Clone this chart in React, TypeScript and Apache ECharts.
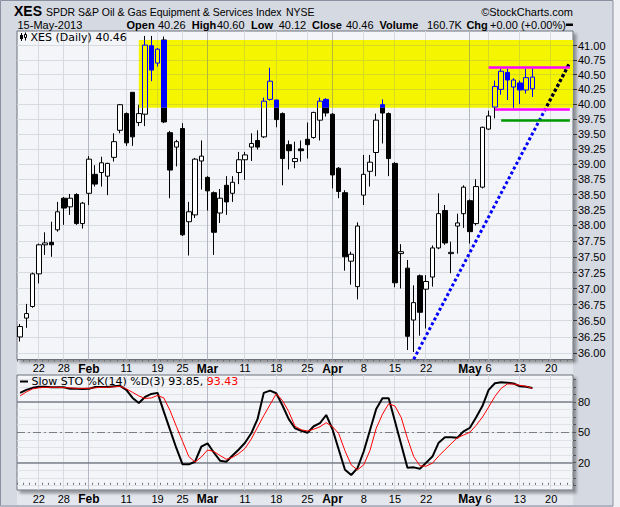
import React, { useEffect, useRef } from 'react';
import * as echarts from 'echarts';

// ---------------- data ----------------
const DATES: string[] = [
  '2013-01-16', '2013-01-17', '2013-01-18', '2013-01-22', '2013-01-23', '2013-01-24', '2013-01-25',
  '2013-01-28', '2013-01-29', '2013-01-30', '2013-01-31',
  '2013-02-01', '2013-02-04', '2013-02-05', '2013-02-06', '2013-02-07', '2013-02-08',
  '2013-02-11', '2013-02-12', '2013-02-13', '2013-02-14', '2013-02-15',
  '2013-02-19', '2013-02-20', '2013-02-21', '2013-02-22',
  '2013-02-25', '2013-02-26', '2013-02-27', '2013-02-28',
  '2013-03-01', '2013-03-04', '2013-03-05', '2013-03-06', '2013-03-07', '2013-03-08',
  '2013-03-11', '2013-03-12', '2013-03-13', '2013-03-14', '2013-03-15',
  '2013-03-18', '2013-03-19', '2013-03-20', '2013-03-21', '2013-03-22',
  '2013-03-25', '2013-03-26', '2013-03-27', '2013-03-28',
  '2013-04-01', '2013-04-02', '2013-04-03', '2013-04-04', '2013-04-05',
  '2013-04-08', '2013-04-09', '2013-04-10', '2013-04-11', '2013-04-12',
  '2013-04-15', '2013-04-16', '2013-04-17', '2013-04-18', '2013-04-19',
  '2013-04-22', '2013-04-23', '2013-04-24', '2013-04-25', '2013-04-26',
  '2013-04-29', '2013-04-30',
  '2013-05-01', '2013-05-02', '2013-05-03',
  '2013-05-06', '2013-05-07', '2013-05-08', '2013-05-09', '2013-05-10',
  '2013-05-13', '2013-05-14', '2013-05-15',
  '2013-05-16', '2013-05-17', '2013-05-20', '2013-05-21', '2013-05-22', '2013-05-23',
];

const OPEN = [
  36.25, 36.54, 36.72, 37.23, 37.69, 37.73, 37.93, 38.44, 38.30, 38.50,
  38.03, 38.52, 38.83, 38.86, 38.80, 39.11, 39.56, 39.84, 40.20, 39.69,
  39.83, 41.00, 40.70, 41.10, 39.52, 39.28, 39.59, 38.06, 38.17, 39.05,
  38.78, 38.53, 38.20, 38.65, 38.52, 38.86, 39.07, 39.28, 39.39, 39.45,
  40.08, 40.07, 39.84, 39.32, 39.04, 39.25, 39.41, 39.44, 39.73, 40.08,
  39.83, 38.93, 38.53, 37.43, 37.03, 38.49, 38.88, 39.19, 39.99, 39.84,
  39.01, 37.55, 37.32, 36.51, 37.20, 36.99, 37.18, 37.64, 38.24, 37.55,
  37.99, 38.19, 38.40, 38.03, 38.62, 39.58, 39.95, 40.25, 40.54, 40.29,
  40.36, 40.24, 40.26,
];
const HIGH = [
  36.45, 36.76, 37.25, 37.71, 37.89, 38.06, 38.38, 38.46, 38.51, 38.52,
  38.38, 39.13, 38.98, 39.12, 39.02, 39.51, 40.00, 39.86, 40.20, 39.99,
  41.17, 41.17, 40.96, 41.16, 39.55, 39.40, 39.68, 38.38, 39.10, 39.39,
  38.80, 38.55, 38.59, 38.80, 38.80, 39.20, 39.20, 39.51, 39.56, 40.11,
  40.62, 40.07, 39.86, 39.39, 39.37, 39.39, 39.69, 39.87, 40.11, 40.10,
  39.85, 38.95, 38.57, 37.58, 38.05, 39.15, 39.15, 39.84, 40.08, 39.86,
  39.03, 37.70, 37.45, 37.05, 37.22, 37.21, 37.68, 38.52, 38.33, 37.74,
  38.19, 38.65, 38.42, 38.75, 39.62, 39.89, 40.40, 40.60, 40.60, 40.44,
  40.40, 40.60, 40.60,
];
const LOW = [
  36.18, 36.39, 36.70, 37.08, 37.53, 37.50, 37.90, 38.01, 38.17, 38.01,
  37.95, 38.33, 38.63, 38.63, 38.49, 39.04, 39.51, 39.30, 39.30, 39.63,
  39.63, 40.39, 40.64, 39.68, 38.44, 38.96, 37.83, 37.52, 38.12, 38.58,
  38.24, 37.53, 38.04, 38.17, 38.38, 38.67, 38.74, 39.05, 39.24, 39.43,
  40.06, 39.61, 38.65, 38.91, 38.93, 39.04, 39.09, 39.42, 39.39, 39.79,
  38.60, 38.44, 37.28, 37.06, 36.83, 38.33, 38.63, 38.80, 39.34, 38.80,
  37.02, 37.00, 36.05, 36.02, 36.27, 36.38, 37.03, 37.62, 37.69, 37.24,
  37.55, 37.96, 37.71, 38.00, 38.60, 39.57, 39.76, 40.16, 40.07, 39.93,
  40.00, 40.18, 40.12,
];
const CLOSE = [
  36.41, 36.61, 37.23, 37.69, 37.72, 37.69, 38.22, 38.28, 38.44, 38.03,
  38.36, 39.08, 38.67, 39.02, 39.01, 39.37, 39.99, 39.35, 39.45, 39.84,
  41.01, 40.58, 40.94, 39.70, 38.90, 39.37, 37.85, 38.22, 39.08, 39.13,
  38.56, 37.89, 38.44, 38.38, 38.70, 39.07, 39.15, 39.34, 39.28, 40.05,
  40.39, 39.74, 39.09, 39.22, 39.09, 39.22, 39.32, 39.86, 40.05, 39.85,
  38.82, 38.55, 37.50, 37.54, 37.99, 38.83, 39.03, 39.73, 39.85, 39.09,
  37.09, 37.58, 36.26, 36.78, 36.63, 37.11, 37.64, 38.19, 37.72, 37.57,
  38.04, 38.62, 37.90, 38.63, 39.61, 39.80, 40.30, 40.56, 40.41, 40.41,
  40.24, 40.45, 40.46,
];

const STO_K = [
  89, 92, 94, 95, 95, 94.6, 94.6, 94.6, 93, 93,
  92.9, 93, 94.8, 94.8, 94.8, 95.5, 96, 92, 84, 79,
  85, 88, 89, 70.4, 52.4, 34.5, 18.3, 18.3, 20.9, 35.7,
  39.1, 30, 21.9, 20.9, 27, 33, 39.7, 49, 63, 89,
  91.2, 88.6, 76.5, 63, 54, 51.5, 49.6, 56, 59, 67.1,
  53, 33, 13, 7.7, 14.5, 31, 52, 73, 83.7, 83.7,
  61, 38, 15, 15.3, 14, 20, 26, 39.7, 45, 45,
  44.6, 51, 54.5, 65, 76, 92, 98.5, 99.5, 99, 98.3,
  95.5, 95, 93.85,
];
const STO_D = [
  86, 90, 93, 94, 94.5, 94.5, 94.5, 94.2, 94, 93.5,
  93.5, 93.5, 94, 94.5, 94.5, 95, 95.5, 93, 89.5, 86,
  83.5, 84, 86.5, 84, 71.5, 56, 41, 26, 20.5, 25.5,
  32.5, 31, 27, 23.3, 25.2, 29, 34, 43.3, 55, 66.5,
  77.3, 88.2, 81.4, 70.4, 56, 52.5, 51.3, 53, 55.5, 59.5,
  55.6, 48.7, 31.7, 17.7, 12.8, 17.8, 32, 54, 67.9, 78.3,
  76, 64.7, 44, 26, 16.8, 16.5, 19.5, 26.5, 32.6, 38.7,
  44.6, 47.3, 50, 56.9, 65, 75, 85.5, 93.5, 97.8, 97.8,
  96.5, 95.5, 93.43,
];

const Y_TICKS = [
  36.0, 36.25, 36.5, 36.75, 37.0, 37.25, 37.5, 37.75, 38.0, 38.25, 38.5,
  38.75, 39.0, 39.25, 39.5, 39.75, 40.0, 40.25, 40.5, 40.75, 41.0,
];
const STO_LABELS = [20, 50, 80];
const STO_GRID = [-2.5, 5, 12.5, 20, 27.5, 35, 42.5, 50, 57.5, 65, 72.5, 80, 87.5, 95, 102.5];

const X_LABELS: [string, string][] = [
  ['2013-01-22', '22'], ['2013-01-28', '28'], ['2013-02-01', 'Feb'], ['2013-02-11', '11'],
  ['2013-02-19', '19'], ['2013-02-25', '25'], ['2013-03-01', 'Mar'], ['2013-03-11', '11'],
  ['2013-03-18', '18'], ['2013-03-25', '25'], ['2013-04-01', 'Apr'], ['2013-04-08', '8'],
  ['2013-04-15', '15'], ['2013-04-22', '22'], ['2013-05-01', 'May'], ['2013-05-06', '6'],
  ['2013-05-13', '13'], ['2013-05-20', '20'],
];
const MONTH_LABELS = ['Feb', 'Mar', 'Apr', 'May'];

// annotations
const ZONE_START = '2013-02-13';
const ZONE_LOW = 39.94;
const ZONE_HIGH = 41.1;
const TREND_DATES = ['2013-04-18', '2013-05-23'];
const TREND_VALUES = [35.91, 40.71];
const RANGE_TOP_DATES = ['2013-05-06', '2013-05-23'];
const RANGE_TOP = 40.62;
const RANGE_BOTTOM_DATES = ['2013-05-07', '2013-05-23'];
const RANGE_BOTTOM = 39.92;
const SUPPORT_DATES = ['2013-05-08', '2013-05-23'];
const SUPPORT = 39.73;

const HEADER_VOLUME = '160.7K';
const HEADER_CHG = '+0.00 (+0.00%)';
const HEADER_DATE = '15-May-2013';

// ---------------- style ----------------
const FONT = '"Liberation Sans", Arial, sans-serif';
const LEGEND_FONT = '"DejaVu Sans", Verdana, sans-serif';
const BG = '#d5d9e2';
const PLOT_BG = '#f4f5f9';
const GRID_C = '#d7dae1';
const GRID_MONTH = '#b4b8c2';
const YELLOW = '#f5f500';
const ZONE_GRID = '#d7da1e';
const ZONE_GRID_MONTH = '#b4b83d';
const BLUE = '#0000ff';

const LABEL_BY_DATE: Record<string, string> = {};
X_LABELS.forEach(([d, t]) => { LABEL_BY_DATE[d] = t; });

const sub = (p: number, positive?: boolean) => {
  const d = Math.round(p * 2);
  return d % 2 !== 0 ? d / 2 : (d + (positive ? 1 : -1)) / 2;
};

function zoneRect(params: any, api: any) {
  const cs = params.coordSys;
  const a = api.coord([ZONE_START, ZONE_HIGH]);
  const b = api.coord([ZONE_START, ZONE_LOW]);
  return { x: a[0], y: a[1], width: cs.x + cs.width - a[0], height: b[1] - a[1] };
}

function buildOption(): any {
  const N = OPEN.length;
  const candleData = OPEN.map((o, i) => [o, CLOSE[i], LOW[i], HIGH[i]]);
  const overlayData = OPEN.map((o, i) => [DATES[i], o, CLOSE[i], LOW[i], HIGH[i]]);

  const labelInterval = (index: number) => LABEL_BY_DATE[DATES[index]] !== undefined;
  const labelFormatter = (value: string) => {
    const t = LABEL_BY_DATE[value];
    if (t === undefined) return '';
    return MONTH_LABELS.includes(t) ? `{m|${t}}` : t;
  };

  const xAxisOf = (gridIndex: number) => ({
    type: 'category',
    gridIndex,
    data: DATES,
    boundaryGap: true,
    axisLine: { show: false },
    axisTick: { show: true, interval: 0, length: 2, lineStyle: { color: '#6a6e78' } },
    axisLabel: {
      interval: labelInterval,
      formatter: labelFormatter,
      margin: 3,
      fontSize: 11,
      color: '#000',
      fontFamily: FONT,
      rich: { m: { fontWeight: 'bold', fontSize: 12, color: '#000', fontFamily: FONT } },
    },
    splitLine: { show: false },
  });

  const vGrid = (gridIndex: number, yAnchor: number) => ({
    type: 'custom',
    xAxisIndex: gridIndex,
    yAxisIndex: gridIndex,
    z: 1,
    silent: true,
    data: X_LABELS.map(([d]) => [d]),
    renderItem: (params: any, api: any) => {
      const cs = params.coordSys;
      const idx = api.value(0);
      const isMonth = MONTH_LABELS.includes(LABEL_BY_DATE[DATES[idx]]);
      const x = sub(api.coord([idx, yAnchor])[0]);
      return {
        type: 'line',
        shape: { x1: x, y1: cs.y, x2: x, y2: cs.y + cs.height },
        style: { stroke: isMonth ? GRID_MONTH : GRID_C, lineWidth: 1 },
      };
    },
  });

  const gridCommon = {
    show: true,
    backgroundColor: PLOT_BG,
    borderColor: '#6c707a',
    borderWidth: 1,
    shadowColor: 'rgba(0,0,0,0.35)',
    shadowBlur: 3,
    shadowOffsetX: 3,
    shadowOffsetY: 3,
    containLabel: false,
    outerBoundsMode: 'none',
  };

  const txt = (x: number, y: number, text: string, extra: any = {}) => ({
    type: 'text',
    x,
    y,
    z: 20,
    silent: true,
    style: {
      text,
      fill: '#000',
      fontSize: 11,
      fontFamily: FONT,
      align: 'left',
      verticalAlign: 'middle',
      ...extra,
    },
  });
  const bold = { fontWeight: 'bold' };

  return {
    animation: false,
    backgroundColor: BG,
    textStyle: { fontFamily: FONT },
    grid: [
      { ...gridCommon, left: 17, top: 31, width: 556, height: 328.5 },
      { ...gridCommon, left: 17, top: 375, width: 556, height: 115 },
    ],
    xAxis: [xAxisOf(0), xAxisOf(1)],
    yAxis: [
      {
        type: 'log',
        logBase: 10,
        gridIndex: 0,
        position: 'right',
        min: 35.906,
        max: 41.256,
        axisLine: { show: false },
        axisTick: { show: true, customValues: Y_TICKS, length: 4, lineStyle: { color: '#333' } },
        axisLabel: {
          customValues: Y_TICKS,
          formatter: (v: number) => v.toFixed(2),
          margin: 5,
          fontSize: 11,
          color: '#000',
          fontFamily: FONT,
        },
        splitLine: { show: true, customValues: Y_TICKS, lineStyle: { color: GRID_C, width: 1 } },
      },
      {
        type: 'value',
        gridIndex: 1,
        position: 'right',
        min: -7.1,
        max: 106.7,
        axisLine: { show: false },
        axisTick: { show: true, customValues: STO_GRID, length: 3, lineStyle: { color: '#555' } },
        axisLabel: {
          customValues: STO_LABELS,
          margin: 5,
          fontSize: 11,
          color: '#000',
          fontFamily: FONT,
        },
        splitLine: { show: true, customValues: STO_GRID, lineStyle: { color: '#e0e2e8', width: 1 } },
      },
    ],
    graphic: [
      { type: 'rect', z: -10, silent: true, shape: { x: 613, y: 0, width: 7, height: 507 }, style: { fill: '#eef0f3' } },
      { type: 'rect', z: -9, silent: true, shape: { x: 0.5, y: 0.5, width: 612.5, height: 505.5 }, style: { fill: 'none', stroke: '#8a91a0', lineWidth: 1 } },
      { type: 'rect', z: -8, silent: true, shape: { x: 17, y: 360, width: 556, height: 15 }, style: { fill: '#e4e7ed' } },
      { type: 'rect', z: -8, silent: true, shape: { x: 17, y: 490, width: 556, height: 15 }, style: { fill: '#e4e7ed' } },
      // header line 1
      txt(14, 11, 'XES', { fontSize: 14, fontWeight: 'bold' }),
      txt(46, 11.5, 'SPDR S&P Oil & Gas Equipment & Services Index', { fontSize: 10.5 }),
      txt(286, 11.5, 'NYSE', { fontSize: 10.5 }),
      txt(573, 11.5, '©StockCharts.com', { align: 'right' }),
      // header line 2
      txt(17.5, 24.5, HEADER_DATE),
      txt(126.5, 24.5, 'Open', bold),
      txt(158, 24.5, OPEN[N - 1].toFixed(2)),
      txt(191.7, 24.5, 'High', bold),
      txt(217, 24.5, HIGH[N - 1].toFixed(2)),
      txt(251, 24.5, 'Low', bold),
      txt(278.7, 24.5, LOW[N - 1].toFixed(2)),
      txt(312, 24.5, 'Close', bold),
      txt(346, 24.5, CLOSE[N - 1].toFixed(2)),
      txt(379.4, 24.5, 'Volume', bold),
      txt(427, 24.5, HEADER_VOLUME),
      txt(466.4, 24.5, 'Chg', bold),
      txt(490, 24.5, HEADER_CHG),
      { type: 'rect', z: 20, silent: true, shape: { x: 566, y: 23.5, width: 7, height: 2.5 }, style: { fill: '#000' } },
      // main legend
      { type: 'line', z: 20, silent: true, shape: { x1: 21.5, y1: 33, x2: 21.5, y2: 41 }, style: { stroke: '#000', lineWidth: 1 } },
      { type: 'rect', z: 20, silent: true, shape: { x: 20, y: 35, width: 3, height: 4 }, style: { fill: '#000' } },
      { type: 'line', z: 20, silent: true, shape: { x1: 25.5, y1: 32.5, x2: 25.5, y2: 40.5 }, style: { stroke: '#000', lineWidth: 1 } },
      { type: 'rect', z: 20, silent: true, shape: { x: 24.5, y: 34.5, width: 2, height: 3 }, style: { fill: '#fff', stroke: '#000', lineWidth: 1 } },
      txt(30.5, 37.5, `XES (Daily) ${CLOSE[N - 1].toFixed(2)}`, { fontFamily: LEGEND_FONT }),
      // sto legend
      { type: 'line', z: 20, silent: true, shape: { x1: 20, y1: 381.5, x2: 28, y2: 381.5 }, style: { stroke: '#000', lineWidth: 2 } },
      txt(31.5, 381.5, `{k|Slow STO %K(14) %D(3) ${STO_K[N - 1].toFixed(2)},} {d|${STO_D[N - 1].toFixed(2)}}`, {
        fontFamily: LEGEND_FONT,
        rich: {
          k: { fill: '#000', color: '#000', fontSize: 11, fontFamily: LEGEND_FONT },
          d: { fill: '#ff0000', color: '#ff0000', fontSize: 11, fontFamily: LEGEND_FONT },
        },
      }),
    ],
    series: [
      vGrid(0, Y_TICKS[0]),
      {
        type: 'candlestick',
        xAxisIndex: 0,
        yAxisIndex: 0,
        z: 2,
        silent: true,
        barWidth: 5,
        data: candleData,
        itemStyle: {
          color: '#ffffff',
          color0: '#000000',
          borderColor: '#000000',
          borderColor0: '#000000',
          borderWidth: 1,
        },
        markLine: {
          silent: true,
          z: 10,
          symbol: ['none', 'none'],
          label: { show: false },
          data: [
            [
              { coord: [RANGE_TOP_DATES[0], RANGE_TOP], lineStyle: { color: '#ff00ff', width: 2.5, type: 'solid' } },
              { coord: [RANGE_TOP_DATES[1], RANGE_TOP] },
            ],
            [
              { coord: [RANGE_BOTTOM_DATES[0], RANGE_BOTTOM], lineStyle: { color: '#ff00ff', width: 2.5, type: 'solid' } },
              { coord: [RANGE_BOTTOM_DATES[1], RANGE_BOTTOM] },
            ],
            [
              { coord: [SUPPORT_DATES[0], SUPPORT], lineStyle: { color: '#009a00', width: 2.5, type: 'solid' } },
              { coord: [SUPPORT_DATES[1], SUPPORT] },
            ],
          ],
        },
      },
      // yellow zone with its own (shifted-colour) grid lines
      {
        type: 'custom',
        xAxisIndex: 0,
        yAxisIndex: 0,
        z: 4,
        silent: true,
        data: [[ZONE_START, ZONE_LOW, ZONE_HIGH]],
        renderItem: (params: any, api: any) => {
          const r = zoneRect(params, api);
          const children: any[] = [
            { type: 'rect', shape: r, style: { fill: YELLOW } },
          ];
          Y_TICKS.forEach((v) => {
            const y = sub(api.coord([ZONE_START, v])[1], true);
            if (y > r.y && y < r.y + r.height) {
              children.push({ type: 'line', shape: { x1: r.x, y1: y, x2: r.x + r.width, y2: y }, style: { stroke: ZONE_GRID, lineWidth: 1 } });
            }
          });
          X_LABELS.forEach(([d, t]) => {
            const x = sub(api.coord([d, ZONE_LOW])[0]);
            if (x > r.x && x < r.x + r.width) {
              children.push({
                type: 'line',
                shape: { x1: x, y1: r.y, x2: x, y2: r.y + r.height },
                style: { stroke: MONTH_LABELS.includes(t) ? ZONE_GRID_MONTH : ZONE_GRID, lineWidth: 1 },
              });
            }
          });
          return { type: 'group', children };
        },
      },
      // candles seen through the yellow zone
      {
        type: 'custom',
        xAxisIndex: 0,
        yAxisIndex: 0,
        z: 5,
        silent: true,
        data: overlayData,
        renderItem: (params: any, api: any) => {
          const r = zoneRect(params, api);
          const cat = api.value(0);
          const o = api.value(1);
          const c = api.value(2);
          const l = api.value(3);
          const h = api.value(4);
          const po = api.coord([cat, o]);
          const pc = api.coord([cat, c]);
          const ph = api.coord([cat, h]);
          const pl = api.coord([cat, l]);
          const cx = po[0];
          if (cx + 4 < r.x) return null;
          if (ph[1] > r.y + r.height || pl[1] < r.y) return null;
          const top = Math.min(po[1], pc[1]);
          const bot = Math.max(po[1], pc[1]);
          const xl = sub(cx - 2.5, true);
          const xr = sub(cx + 2.5, false);
          const wx = sub(cx);
          const up = c > o;
          return {
            type: 'group',
            clipPath: { type: 'rect', shape: r },
            children: [
              { type: 'line', shape: { x1: wx, y1: ph[1], x2: wx, y2: top }, style: { stroke: BLUE, lineWidth: 1 } },
              { type: 'line', shape: { x1: wx, y1: bot, x2: wx, y2: pl[1] }, style: { stroke: BLUE, lineWidth: 1 } },
              {
                type: 'polygon',
                shape: { points: [[xl, top], [xr, top], [xr, bot], [xl, bot]] },
                style: { fill: up ? YELLOW : BLUE, stroke: BLUE, lineWidth: 1 },
              },
            ],
          };
        },
      },
      // dotted trend line (blue, turns black inside the zone)
      {
        type: 'custom',
        xAxisIndex: 0,
        yAxisIndex: 0,
        z: 6,
        silent: true,
        data: [[TREND_DATES[0], TREND_VALUES[0]], [TREND_DATES[1], TREND_VALUES[1]]],
        renderItem: (params: any, api: any) => {
          if (params.dataIndex !== 0) return null;
          const p0 = api.coord([api.value(0), api.value(1)]);
          const p1 = api.coord([TREND_DATES[1], TREND_VALUES[1]]);
          const shape = { x1: p0[0], y1: p0[1], x2: p1[0], y2: p1[1] };
          const dash = [3, 2.5];
          return {
            type: 'group',
            children: [
              { type: 'line', shape, style: { stroke: BLUE, lineWidth: 3, lineDash: dash } },
              {
                type: 'group',
                clipPath: { type: 'rect', shape: zoneRect(params, api) },
                children: [{ type: 'line', shape, style: { stroke: '#000', lineWidth: 3, lineDash: dash } }],
              },
            ],
          };
        },
      },
      vGrid(1, STO_LABELS[1]),
      {
        type: 'line',
        name: '%K',
        xAxisIndex: 1,
        yAxisIndex: 1,
        z: 3,
        silent: true,
        data: STO_K,
        symbol: 'none',
        showSymbol: false,
        lineStyle: { color: '#000', width: 2 },
        markLine: {
          silent: true,
          z: 2,
          symbol: ['none', 'none'],
          label: { show: false },
          data: [
            { yAxis: STO_LABELS[2], lineStyle: { color: '#7a7e87', width: 1.5, type: 'solid' } },
            { yAxis: STO_LABELS[1], lineStyle: { color: '#7a7e87', width: 1, type: [8, 3, 2, 3] } },
            { yAxis: STO_LABELS[0], lineStyle: { color: '#7a7e87', width: 1.5, type: 'solid' } },
          ],
        },
      },
      {
        type: 'line',
        name: '%D',
        xAxisIndex: 1,
        yAxisIndex: 1,
        z: 3,
        silent: true,
        data: STO_D,
        symbol: 'none',
        showSymbol: false,
        lineStyle: { color: '#ff0000', width: 1 },
      },
    ],
  };
}

export default function App() {
  const ref = useRef<HTMLDivElement>(null);
  useEffect(() => {
    if (!ref.current) return;
    const chart = echarts.init(ref.current, null, { renderer: 'svg' });
    chart.setOption(buildOption());
    return () => chart.dispose();
  }, []);
  return (
    <div
      ref={ref}
      style={{ position: 'fixed', left: 0, top: 0, width: 620, height: 507 }}
    />
  );
}
